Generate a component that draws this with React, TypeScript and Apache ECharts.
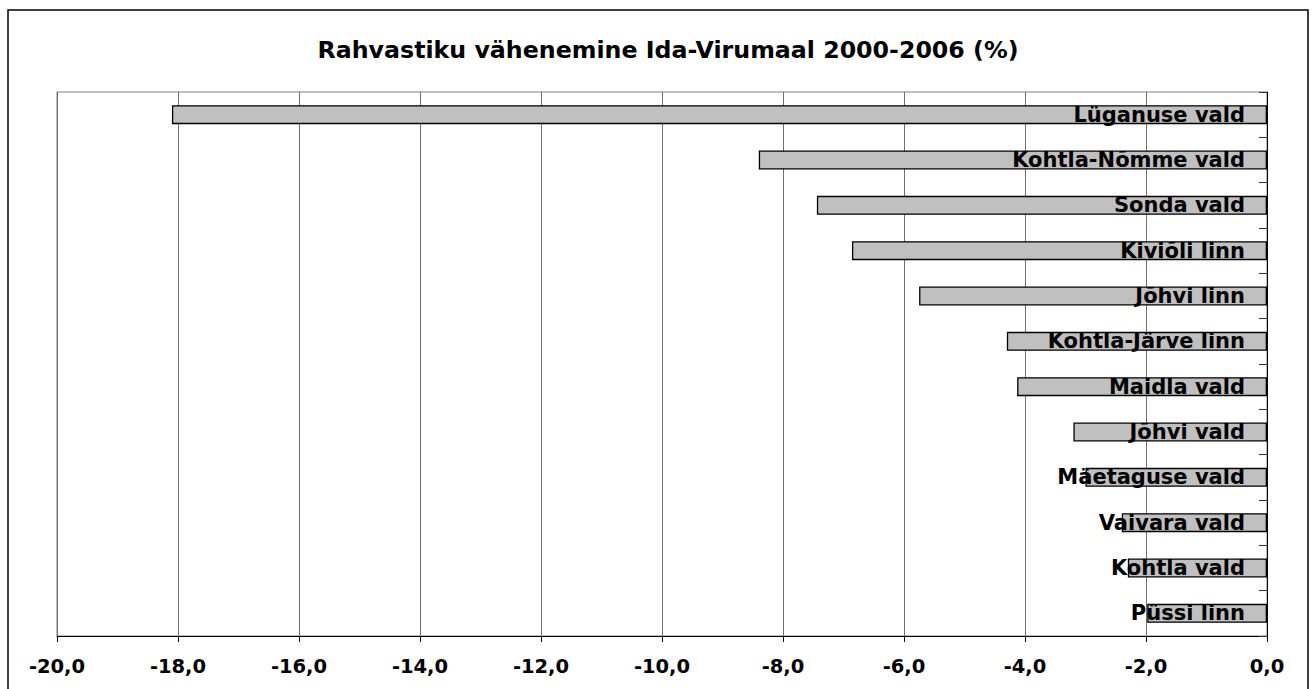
import React, { useEffect, useRef } from "react";
import * as echarts from "echarts";

const titleText = "Rahvastiku vähenemine Ida-Virumaal 2000-2006 (%)";
const categories = [
  "Lüganuse vald",
  "Kohtla-Nõmme vald",
  "Sonda vald",
  "Kiviõli linn",
  "Jõhvi linn",
  "Kohtla-Järve linn",
  "Maidla vald",
  "Jõhvi vald",
  "Mäetaguse vald",
  "Vaivara vald",
  "Kohtla vald",
  "Püssi linn",
];
const values = [-18.1, -8.4, -7.44, -6.86, -5.75, -4.3, -4.13, -3.2, -3.0, -2.4, -2.3, -1.98];
const xMin = -20;
const xMax = 0;
const xStep = 2;

const FONT = "'DejaVu Sans', sans-serif";

export default function App() {
  const ref = useRef<HTMLDivElement>(null);
  useEffect(() => {
    document.body.style.margin = "0";
    const chart = echarts.init(ref.current!, null, { renderer: "svg" });
    chart.setOption({
      animation: false,
      backgroundColor: "#ffffff",
      title: {
        text: titleText,
        left: 663,
        textAlign: "center",
        top: 33,
        textStyle: { fontFamily: FONT, fontWeight: "bold", fontSize: 23.7, color: "#000" },
      },
      graphic: [
        {
          type: "rect",
          shape: { x: 8, y: 10, width: 1300, height: 720 },
          style: { fill: "none", stroke: "#000", lineWidth: 1.5 },
          silent: true,
          z: 100,
        },
      ],
      grid: {
        left: 57,
        right: 47,
        top: 92,
        bottom: 53,
        show: true,
        borderColor: "#808080",
        borderWidth: 1,
        backgroundColor: "transparent",
      },
      xAxis: {
        type: "value",
        min: xMin,
        max: xMax,
        interval: xStep,
        axisLine: { show: true, onZero: false, lineStyle: { color: "#000", width: 1 } },
        axisTick: { show: true, length: 6, lineStyle: { color: "#000" } },
        splitLine: { show: true, lineStyle: { color: "#707070", width: 1 } },
        axisLabel: {
          margin: 20,
          fontFamily: FONT,
          fontWeight: "bold",
          fontSize: 19.5,
          color: "#000",
          formatter: (v: number) => v.toFixed(1).replace(".", ","),
        },
      },
      yAxis: {
        type: "category",
        data: categories,
        inverse: true,
        position: "right",
        axisLine: { show: true, lineStyle: { color: "#000", width: 1 } },
        axisTick: { show: true, inside: true, length: 8, lineStyle: { color: "#333" } },
        axisLabel: { show: false },
        splitLine: { show: false },
      },
      series: [
        {
          type: "bar",
          data: values,
          barWidth: 19,
          itemStyle: { color: "#c0c0c0", borderColor: "#000", borderWidth: 1.3 },
          label: {
            show: true,
            position: "insideRight",
            distance: 22,
            formatter: "{b}",
            fontFamily: FONT,
            fontWeight: "bold",
            fontSize: 21,
            color: "#000",
          },
        },
      ],
    });
    return () => chart.dispose();
  }, []);
  return <div ref={ref} style={{ width: 1314, height: 689 }} />;
}
